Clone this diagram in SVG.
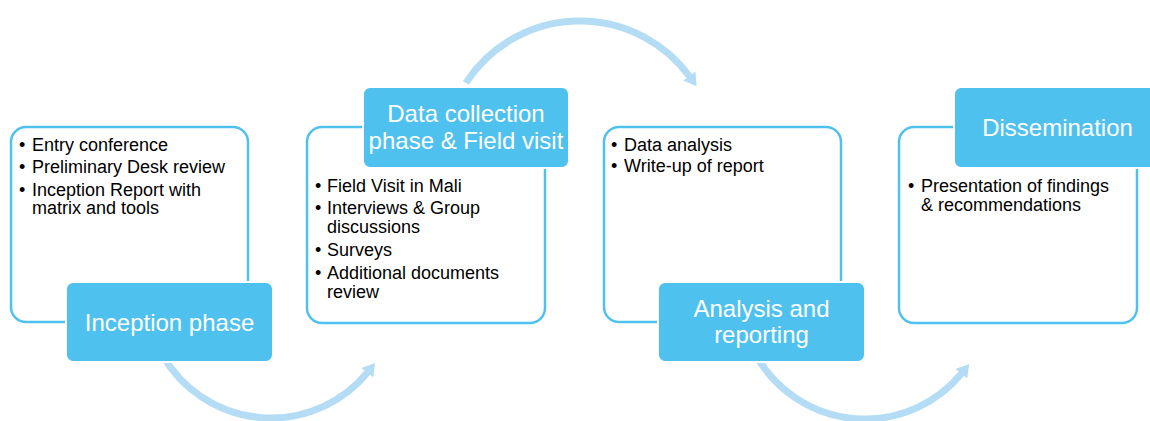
<svg xmlns="http://www.w3.org/2000/svg" width="1150" height="421" viewBox="0 0 1150 421">
<style>
.outline{fill:#fff;stroke:#4FC1EE;stroke-width:2.5}
.label{fill:#4FC1EE;stroke:#fff;stroke-width:2}
.lt{font-family:"Liberation Sans",Arial,sans-serif;font-size:24px;fill:#fff;text-anchor:middle}
.bt{font-family:"Liberation Sans",Arial,sans-serif;font-size:18px;fill:#000}
.arc{fill:none;stroke:#B4DDF5;stroke-width:7;marker-end:url(#head)}
</style>
<defs>
<marker id="head" viewBox="0 0 10 12" refX="1" refY="6" markerWidth="1.8" markerHeight="2.2" orient="auto" markerUnits="strokeWidth">
<path d="M0,0 L10,6 L0,12 z" fill="#B4DDF5"/>
</marker>
</defs>
<g id="connectors">
<path class="arc" d="M162.7,355.5 A125,125 0 0 0 368.1,371.7"/>
<path class="arc" d="M465.9,82.9 A136,136 0 0 1 690,77"/>
<path class="arc" d="M756.7,356.5 A125,125 0 0 0 962.1,372.7"/>
</g>
<g id="node1">
<rect class="outline" x="11" y="127" width="237" height="195" rx="15"/>
<text class="bt" x="19" y="151">•</text><text class="bt" x="32" y="151">Entry conference</text>
<text class="bt" x="19" y="173">•</text><text class="bt" x="32" y="173">Preliminary Desk review</text>
<text class="bt" x="19" y="196">•</text><text class="bt" x="32" y="196">Inception Report with</text>
<text class="bt" x="32" y="214">matrix and tools</text>
<rect class="label" x="66" y="282" width="207" height="80" rx="7"/>
<text class="lt" x="169.5" y="331">Inception phase</text>
</g>
<g id="node2">
<rect class="outline" x="307" y="127" width="238" height="196" rx="15"/>
<rect class="label" x="363" y="87" width="206" height="81" rx="7"/>
<text class="lt" x="466" y="122">Data collection</text>
<text class="lt" x="466" y="149">phase &amp; Field visit</text>
<text class="bt" x="315" y="192">•</text><text class="bt" x="327" y="192">Field Visit in Mali</text>
<text class="bt" x="315" y="214">•</text><text class="bt" x="327" y="214">Interviews &amp; Group</text>
<text class="bt" x="327" y="233">discussions</text>
<text class="bt" x="315" y="256">•</text><text class="bt" x="327" y="256">Surveys</text>
<text class="bt" x="315" y="279">•</text><text class="bt" x="327" y="279">Additional documents</text>
<text class="bt" x="327" y="298">review</text>
</g>
<g id="node3">
<rect class="outline" x="604" y="127" width="237" height="195" rx="15"/>
<text class="bt" x="611" y="151">•</text><text class="bt" x="624" y="151">Data analysis</text>
<text class="bt" x="611" y="172">•</text><text class="bt" x="624" y="172">Write-up of report</text>
<rect class="label" x="658" y="282" width="207" height="80" rx="7"/>
<text class="lt" x="761.5" y="317">Analysis and</text>
<text class="lt" x="761.5" y="343">reporting</text>
</g>
<g id="node4">
<rect class="outline" x="899" y="127" width="238" height="196" rx="15"/>
<rect class="label" x="954" y="87" width="207" height="81" rx="7"/>
<text class="lt" x="1057.5" y="136">Dissemination</text>
<text class="bt" x="908" y="192">•</text><text class="bt" x="921" y="192">Presentation of findings</text>
<text class="bt" x="921" y="211">&amp; recommendations</text>
</g>
</svg>
